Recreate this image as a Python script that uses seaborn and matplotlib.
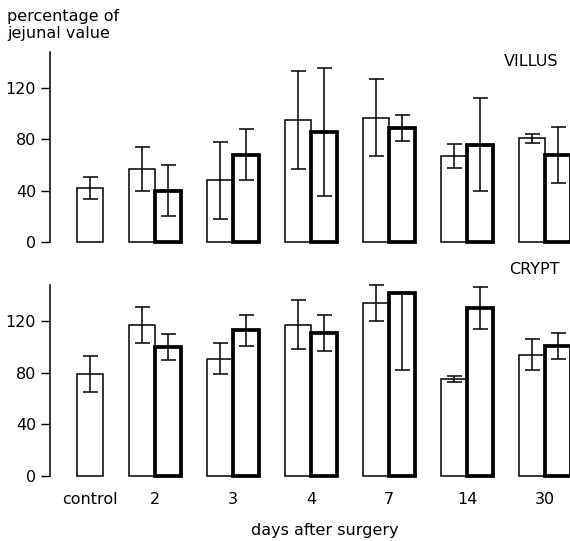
import numpy as np
import pandas as pd
import matplotlib
matplotlib.use("Agg")
import matplotlib.pyplot as plt
import seaborn as sns

# ---------------- data ----------------
days = ["control", "2", "3", "4", "7", "14", "30"]
surgery_days = ["2", "3", "4", "7", "14", "30"]

villus_open = [42, 57, 48, 95, 97, 67, 81]
villus_open_err = [8.5, 17, 30, 38, 30, 9.5, 3.5]
villus_bold = [40, 68, 86, 89, 76, 68]
villus_bold_err_low = [20, 20, 50, 10, 36, 22]
villus_bold_err_high = [20, 20, 50, 10, 36, 22]

crypt_open = [79, 117, 91, 117, 134, 75, 94]
crypt_open_err = [14, 14, 12, 19, 14, 2.5, 12]
crypt_bold = [100, 113, 111, 142, 130, 101]
crypt_bold_err_low = [10, 12, 14, 60, 16, 10]
crypt_bold_err_high = [10, 12, 14, 0, 16, 10]

yticks = [0, 40, 80, 120]
panel_titles = ["VILLUS", "CRYPT"]

# ---------------- layout ----------------
sns.set_style("ticks")
plt.rcParams["font.family"] = ["DejaVu Sans"]
plt.rcParams["text.color"] = "black"
plt.rcParams["xtick.color"] = "black"
plt.rcParams["ytick.color"] = "black"
plt.rcParams["axes.labelcolor"] = "black"
FS = 11.5

# group centres: control a bit closer to day 2 than the regular spacing
group_pos = np.r_[0.0, 0.833 + np.arange(len(surgery_days))]
half = 1.0 / 6.0


def build_frame(open_vals, bold_vals):
    x_open = np.r_[group_pos[0], group_pos[1:] - half]
    x_bold = group_pos[1:] + half
    df_o = pd.DataFrame({"x": x_open, "value": open_vals, "series": "open"})
    df_b = pd.DataFrame({"x": x_bold, "value": bold_vals, "series": "bold"})
    return df_o, df_b


fig = plt.figure(figsize=(5.7, 5.41), dpi=100)
ax1 = fig.add_axes([0.0877, 0.5455, 0.9123, 0.3629])
ax2 = fig.add_axes([0.0877, 0.1129, 0.9123, 0.3653])

panels = [
    (ax1, villus_open, villus_open_err, villus_open_err, villus_bold,
     villus_bold_err_low, villus_bold_err_high),
    (ax2, crypt_open, crypt_open_err, crypt_open_err, crypt_bold,
     crypt_bold_err_low, crypt_bold_err_high),
]

for i, (ax, ov, olo, ohi, bv, blo, bhi) in enumerate(panels):
    df_o, df_b = build_frame(ov, bv)
    df = pd.concat([df_o, df_b], ignore_index=True)
    sns.barplot(data=df, x="x", y="value", hue="series",
                hue_order=["open", "bold"],
                palette={"open": "white", "bold": "white"},
                native_scale=True, dodge=False, width=1.0,
                saturation=1, errorbar=None, edgecolor="black",
                linewidth=1.1, legend=False, ax=ax, zorder=2)
    # bold outline for the second series
    for bar in ax.containers[1]:
        bar.set_linewidth(2.7)
    for bar in ax.containers[0]:
        bar.set_linewidth(1.1)

    ax.errorbar(df_o["x"], df_o["value"], yerr=[olo, ohi], fmt="none",
                ecolor="black", elinewidth=1.1, capsize=5.4, capthick=1.1,
                zorder=4)
    ax.errorbar(df_b["x"], df_b["value"], yerr=[blo, bhi], fmt="none",
                ecolor="black", elinewidth=1.1, capsize=5.4, capthick=1.1,
                zorder=4)

    ax.set_xlim(-0.513, 6.154)
    ax.set_ylim(-3, 150)
    ax.set_yticks(yticks)
    ax.set_yticklabels([str(t) for t in yticks], fontsize=FS)
    ax.tick_params(axis="y", direction="out", length=6.5, width=1.0,
                   pad=3.5, colors="black")
    for s in ["top", "right", "bottom"]:
        ax.spines[s].set_visible(False)
    ax.spines["left"].set_bounds(0, 148)
    ax.spines["left"].set_linewidth(1.1)
    ax.spines["left"].set_color("black")
    ax.set_xlabel("")
    ax.set_ylabel("")
    ax.set_facecolor("white")

ax1.set_xticks([])
ax2.set_xticks(group_pos)
ax2.set_xticklabels(days, fontsize=FS)
ax2.tick_params(axis="x", length=0, pad=9, colors="black")

fig.text(7 / 570, 1 - 9 / 541, "percentage of\njejunal value", ha="left",
         va="top", fontsize=FS, linespacing=1.2, color="black")
fig.text(504 / 570, 1 - 61 / 541, panel_titles[0], ha="left", va="center",
         fontsize=FS, color="black")
fig.text(509 / 570, 1 - 269 / 541, panel_titles[1], ha="left", va="center",
         fontsize=FS, color="black")
fig.text(325 / 570, 1 - 531 / 541, "days after surgery", ha="center",
         va="center", fontsize=FS, color="black")

fig.savefig("out.png", dpi=100, facecolor="white")
